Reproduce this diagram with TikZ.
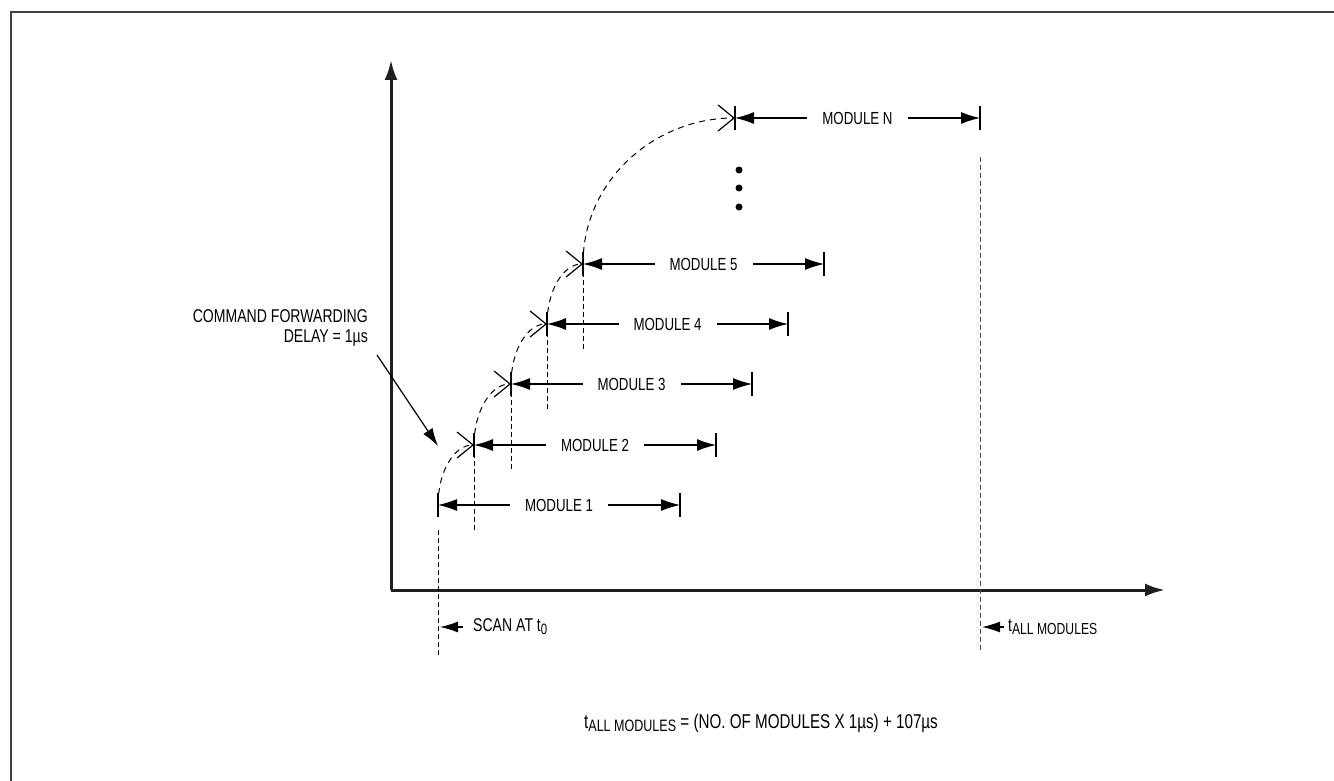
\documentclass[tikz,border=0pt]{standalone}
\usepackage{fontspec}
\setmainfont{Liberation Sans}[FakeStretch=0.76]
\usetikzlibrary{arrows.meta,calc}
\newcommand{\tsubx}[2]{t\raisebox{-0.3ex}{\fontsize{#1}{#1}\selectfont #2}}
\begin{document}
\begin{tikzpicture}[x=1pt,y=-1pt,
  axis/.style={line width=3pt, black!88, -{Latex[length=20pt,width=13pt]}},
  dimline/.style={line width=1.2pt, {Latex[length=19pt,width=12pt]}-{Latex[length=19pt,width=12pt]}},
  tickline/.style={line width=1.2pt},
  vdash/.style={line width=1pt, dash pattern=on 5pt off 3pt},
  curv/.style={line width=1pt, dash pattern=on 6pt off 5pt, -{Straight Barb[length=16pt,width=26pt,line width=1.2pt]}},
  lbl/.style={fill=white, inner xsep=15pt, inner ysep=2pt, font=\fontsize{17.5}{17.5}\selectfont},
  txt/.style={inner sep=0pt, font=\fontsize{18.5}{18.5}\selectfont},
  ptr/.style={line width=1.2pt, -{Latex[length=18pt,width=11pt]}}
]
\useasboundingbox (0,0) rectangle (1334,781);
% frame
\draw[line width=2pt, black!75] (11,781) -- (11,12) -- (1334,12);
% axes
\coordinate (O) at (391,590);
\coordinate (Ytip) at (391,60);
\coordinate (Xtip) at (1165,590);
\draw[axis] (O) -- (Ytip);
\draw[axis] (O) -- (Xtip);
% modules
\foreach \n/\xl/\y/\xr/\t in {1/438/505/680/MODULE 1, 2/474/445/716/MODULE 2, 3/511/384/752/MODULE 3, 4/547/324/788/MODULE 4, 5/583/264/824/MODULE 5, 6/735/118/980/MODULE N}{
  \coordinate (L\n) at (\xl,\y);
  \coordinate (R\n) at (\xr,\y);
  \draw[dimline] (L\n) -- node[lbl] (lab\n) {\t} (R\n);
  \draw[tickline] ($(L\n)+(0,-12)$) -- ($(L\n)+(0,12)$);
  \draw[tickline] ($(R\n)+(0,-12)$) -- ($(R\n)+(0,12)$);
}
% dashed verticals below module starts
\foreach \n in {2,3,4,5}{
  \draw[vdash] (L\n) -- ++(0,86);
}
% curves
\draw[curv] (L1) .. controls +(0,-33) and +(-20,0) .. (L2);
\draw[curv] (L2) .. controls +(0,-34) and +(-20,0) .. (L3);
\draw[curv] (L3) .. controls +(0,-33) and +(-20,0) .. (L4);
\draw[curv] (L4) .. controls +(0,-33) and +(-20,0) .. (L5);
\draw[curv] (L5) .. controls +(0,-84) and +(-80,0) .. (L6);
% dots
\fill (739,170) circle (3.5);
\fill (739,188) circle (3.5);
\fill (739,207) circle (3.5);
% marker lines
\coordinate (T0a) at (438,530);
\coordinate (T0b) at (438,655);
\draw[vdash] (T0a) -- (T0b);
\coordinate (TAa) at (980,157);
\coordinate (TAb) at (980,652);
\draw[vdash, black!70] (TAa) -- (TAb);
% command forwarding
\node[txt, anchor=east] (cf1) at (368,316) {COMMAND FORWARDING};
\node[txt, anchor=east] (cf2) at (368,338) {DELAY = 1µs};
\coordinate (cfs) at (377,355);
\coordinate (cft) at (438,446);
\draw[ptr] (cfs) -- (cft);
% scan at t0
\coordinate (s0) at (440,627);
\coordinate (s1) at (463,627);
\draw[ptr] (s1) -- (s0);
\node[txt, anchor=west] (scan) at (473,627) {SCAN AT \tsubx{15}{0}};
% t all modules
\coordinate (a0) at (982,627);
\coordinate (a1) at (1004,627);
\draw[ptr] (a1) -- (a0);
\node[txt, anchor=west] (tall) at (1008,627) {\tsubx{16}{ALL MODULES}};
% formula
\node[txt, font=\fontsize{20}{20}\selectfont] (formula) at (761,723) {\tsubx{16.5}{ALL MODULES} = (NO. OF MODULES X 1µs) + 107µs};
\end{tikzpicture}
\end{document}
